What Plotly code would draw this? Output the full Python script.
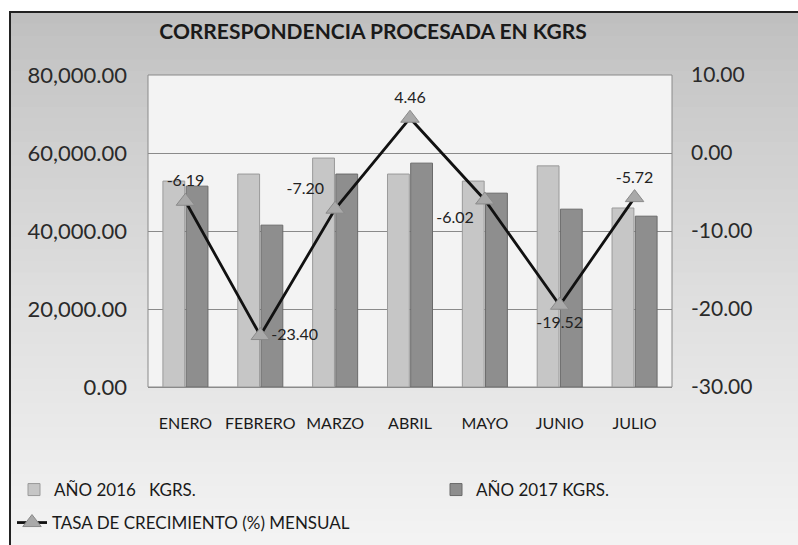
import plotly.graph_objects as go

meses = ['ENERO', 'FEBRERO', 'MARZO', 'ABRIL', 'MAYO', 'JUNIO', 'JULIO']
kg_2016 = [52800, 54600, 58700, 54600, 52800, 56700, 45900]
kg_2017 = [51500, 41500, 54600, 57400, 49700, 45600, 43800]
tasa = [-6.19, -23.40, -7.20, 4.46, -6.02, -19.52, -5.72]
pos_texto = ['top center', 'middle right', 'top left', 'top center',
             'bottom left', 'bottom center', 'top center']
ticks_kg = [0, 20000, 40000, 60000, 80000]
ticks_tasa = [-30, -20, -10, 0, 10]

W, H = 798, 545
L, R, T, B = 148, 126, 75, 158
pw, ph = W - L - R, H - T - B


def px_x(x):
    return (x - L) / pw


def px_y(y):
    return (H - B - y) / ph


fig = go.Figure()

fig.add_trace(go.Bar(name='AÑO 2016   KGRS.', x=meses, y=kg_2016,
                     marker=dict(color='#c6c6c6', line=dict(color='#9a9a9a', width=1)),
                     legend='legend', showlegend=True))
fig.add_trace(go.Bar(name='AÑO 2017 KGRS.', x=meses, y=kg_2017,
                     marker=dict(color='#8e8e8e', line=dict(color='#6a6a6a', width=1)),
                     legend='legend2', showlegend=True))
fig.add_trace(go.Scatter(name='TASA DE CRECIMIENTO (%) MENSUAL', x=meses, y=tasa,
                         yaxis='y2', mode='lines+markers+text',
                         line=dict(color='#111111', width=2.8),
                         marker=dict(symbol='triangle-up', size=16, color='#a9a9a9',
                                     line=dict(color='#8a8a8a', width=1)),
                         text=[f'{v:.2f}' for v in tasa], textposition=pos_texto,
                         textfont=dict(family='Lato', size=16, color='#222222'),
                         cliponaxis=False, legend='legend3', showlegend=True))

# background gradient of the chart frame (grey at top, almost white at bottom)
shapes = []
n = 45
y0 = 12
for i in range(n):
    a = y0 + (H - y0) * i / n
    b = y0 + (H - y0) * (i + 1) / n
    t = (i + 0.5) / n
    g = int(190 + (244 - 190) * (t ** 0.8))
    shapes.append(dict(type='rect', xref='paper', yref='paper', layer='below',
                       x0=px_x(10), x1=px_x(W + 2), y0=px_y(b + 1), y1=px_y(a),
                       fillcolor=f'rgb({g},{g},{g})', line=dict(width=0)))
shapes.append(dict(type='rect', xref='paper', yref='paper', layer='below',
                   x0=px_x(10), x1=px_x(W + 5), y0=px_y(H + 5), y1=px_y(12),
                   fillcolor='rgba(0,0,0,0)', line=dict(color='#222222', width=2)))
shapes.append(dict(type='rect', xref='paper', yref='paper', layer='below',
                   x0=0, x1=1, y0=0, y1=1,
                   fillcolor='#f3f3f3', line=dict(color='#8a8a8a', width=1)))

leg_font = dict(family='Lato', size=17, color='#1a1a1a')

fig.update_layout(
    width=W, height=H,
    margin=dict(l=L, r=R, t=T, b=B, autoexpand=False),
    paper_bgcolor='white', plot_bgcolor='rgba(0,0,0,0)',
    barmode='group', bargap=0.38, bargroupgap=0.06,
    shapes=shapes, showlegend=True,
    title=dict(text='<b>CORRESPONDENCIA PROCESADA EN KGRS</b>', x=373 / W, xanchor='center',
               y=1 - 32 / H, yanchor='middle',
               font=dict(family='Lato', size=21, color='#1a1a1a')),
    xaxis=dict(showgrid=False, showline=True, linecolor='#8a8a8a', tickangle=0,
               ticks='', ticklabelstandoff=22,
               tickfont=dict(family='Lato', size=16, color='#1a1a1a')),
    yaxis=dict(range=[0, 80000], tickvals=ticks_kg,
               ticktext=[f'{v:,.2f}' for v in ticks_kg],
               gridcolor='#8a8a8a', gridwidth=1, zeroline=False, ticks='',
               ticklabelstandoff=20,
               tickfont=dict(family='Lato', size=22, color='#2a2a2a')),
    yaxis2=dict(range=[-30, 10], tickvals=ticks_tasa,
                ticktext=[f'{v:.2f}' for v in ticks_tasa], overlaying='y', side='right',
                showgrid=False, zeroline=False, ticks='', ticklabelstandoff=18,
                tickfont=dict(family='Lato', size=21, color='#2a2a2a')),
    legend=dict(orientation='h', x=px_x(14), y=px_y(472), xanchor='left', yanchor='top',
                bgcolor='rgba(0,0,0,0)', font=leg_font, itemwidth=30),
    legend2=dict(orientation='h', x=px_x(436), y=px_y(472), xanchor='left', yanchor='top',
                 bgcolor='rgba(0,0,0,0)', font=leg_font, itemwidth=30),
    legend3=dict(orientation='h', x=px_x(12), y=px_y(505), xanchor='left', yanchor='top',
                 bgcolor='rgba(0,0,0,0)', font=leg_font, itemwidth=30),
)

# the page's default body margin would shift the chart by 8px
fig.write_html('out.html', config={'displayModeBar': False},
               post_script="document.body.style.margin='0';")
